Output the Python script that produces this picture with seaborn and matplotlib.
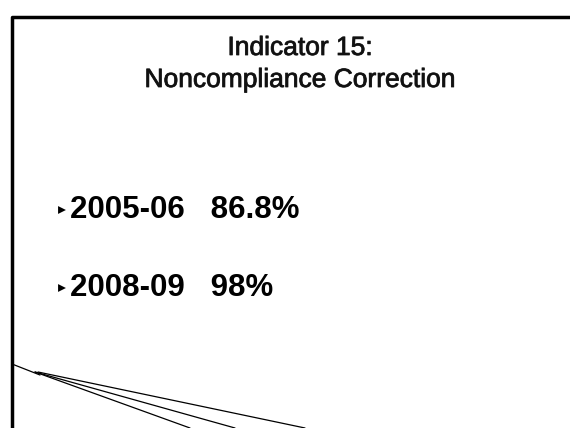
import matplotlib
matplotlib.use("Agg")
import matplotlib.pyplot as plt
import matplotlib.patheffects as pe
import seaborn as sns
import pandas as pd

# slide content
title_lines = ["Indicator 15:", "Noncompliance Correction"]
years = ["2005-06", "2008-09"]
rates = ["86.8%", "98%"]

# decorative swoosh lines at bottom left (pixel coords of the slide)
swoosh_x = [[12, 40], [35, 190], [35, 235], [38, 305]]
swoosh_y = [[364, 375], [372, 428], [372, 428], [372, 428]]

sns.set_theme(style="white")
plt.rcParams['font.family'] = ['Liberation Sans', 'DejaVu Sans']

fig = plt.figure(figsize=(5.7, 4.28), dpi=100)
ax = fig.add_axes([0, 0, 1, 1])

# slide frame
ax.plot([12, 12, 570], [428, 17, 17], color="black", lw=2.5, solid_capstyle="butt")

# title, slightly heavier than regular like the slide
heavy = [pe.withStroke(linewidth=0.6, foreground="#222222")]
ax.text(300, 48, title_lines[0], ha="center", va="center", fontsize=19,
        color="#111111", path_effects=heavy)
ax.text(300, 80, title_lines[1], ha="center", va="center", fontsize=19,
        color="#111111", path_effects=heavy)

# bullet rows
rows = pd.DataFrame({"year": years, "rate": rates, "y": [210, 288]})
sns.scatterplot(data=rows, x=[62] * len(rows), y="y", marker=">", s=32, color="black",
                edgecolor="none", ax=ax, legend=False)
for _, r in rows.iterrows():
    ax.text(70, r["y"], r["year"] + "   " + r["rate"], ha="left", va="center",
            fontsize=22.5, fontweight="bold", color="black")

for xs, ys in zip(swoosh_x, swoosh_y):
    sns.lineplot(x=xs, y=ys, color="black", lw=0.9, ax=ax, sort=False)

ax.set_xlim(0, 570)
ax.set_ylim(428, 0)
ax.axis("off")
fig.savefig("out.png", dpi=100)
